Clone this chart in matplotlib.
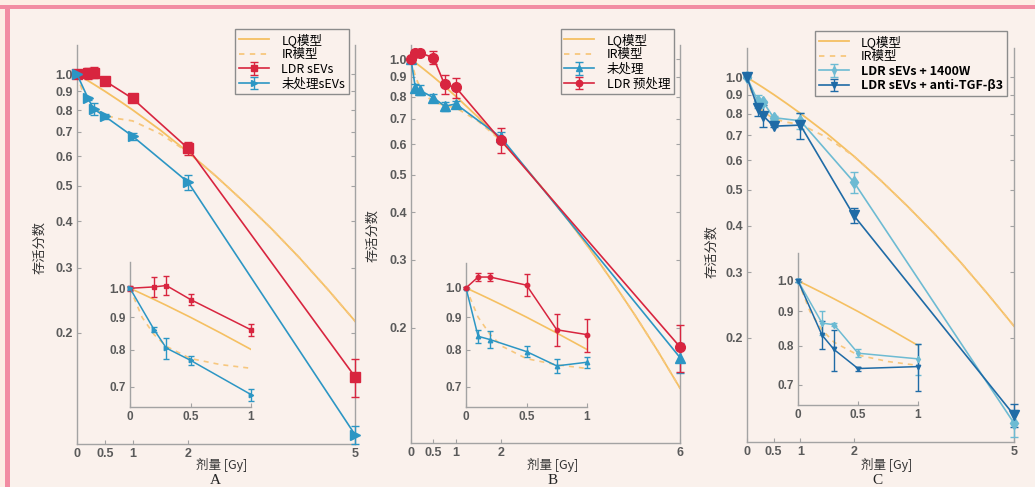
import numpy as np
import matplotlib
matplotlib.use("Agg")
import matplotlib.pyplot as plt
from matplotlib.patches import Rectangle
from matplotlib.font_manager import FontProperties

plt.rcParams['font.family'] = ['Noto Sans CJK SC', 'DejaVu Sans']

# 模型曲线（LQ / IR）的剂量点与存活分数
model_dose = [0, 0.1, 0.2, 0.3, 0.5, 0.75, 1, 1.5, 2, 2.5, 3, 3.5, 4, 4.5, 5, 5.5, 6]
lq_sf = [1.0, 0.980, 0.960, 0.940, 0.900, 0.850, 0.801, 0.706, 0.615, 0.530,
         0.452, 0.382, 0.319, 0.263, 0.215, 0.174, 0.139]
ir_sf = [1.0, 0.900, 0.845, 0.810, 0.775, 0.758, 0.748, 0.690, 0.615, 0.530,
         0.452, 0.382, 0.319, 0.263, 0.215, 0.174, 0.139]

# A: LDR sEVs 与 未处理sEVs
a_dose = [0, 0.2, 0.3, 0.5, 1, 2, 5]
a_ldr = [1.0, 1.005, 1.01, 0.96, 0.86, 0.63, 0.152]
a_ldr_err = [0.01, 0.035, 0.035, 0.02, 0.02, 0.025, 0.018]
a_ctrl = [1.0, 0.86, 0.805, 0.77, 0.68, 0.51, 0.106]
a_ctrl_err = [0.005, 0.008, 0.03, 0.012, 0.015, 0.025, 0.006]

# B: 未处理 与 LDR 预处理
b_dose = [0, 0.1, 0.2, 0.5, 0.75, 1, 2, 6]
b_ctrl = [1.0, 0.84, 0.83, 0.795, 0.755, 0.765, 0.627, 0.167]
b_ctrl_err = [0.005, 0.02, 0.025, 0.015, 0.02, 0.015, 0.02, 0.015]
b_ldr = [1.0, 1.04, 1.04, 1.01, 0.86, 0.845, 0.616, 0.178]
b_ldr_err = [0.005, 0.015, 0.015, 0.04, 0.05, 0.05, 0.045, 0.025]

# C: LDR sEVs + 1400W 与 LDR sEVs + anti-TGF-β3
c_dose = [0, 0.2, 0.3, 0.5, 1, 2, 5]
c_1400w = [1.0, 0.865, 0.86, 0.78, 0.765, 0.524, 0.118]
c_1400w_err = [0.005, 0.035, 0.005, 0.01, 0.04, 0.035, 0.01]
c_anti = [1.0, 0.83, 0.79, 0.74, 0.745, 0.426, 0.124]
c_anti_err = [0.005, 0.04, 0.055, 0.005, 0.06, 0.02, 0.009]

W, H = 1035, 487
BG = '#FAF1EC'
PINK = '#F28CA2'
SPINE = '#A3A3A3'
TICKC = '#5A5A5A'
LQ_C = '#F5C062'
IR_C = '#F7C77E'
RED = '#D8253F'
BLUE = '#2C96C4'
LBLUE = '#6DBBD3'
DBLUE = '#1F6BA6'

fig = plt.figure(figsize=(W / 100, H / 100), dpi=100, facecolor=BG)

# 外框：顶部和左侧的粉色边
fig.patches.append(Rectangle((0, 1 - 5 / H), 1, 5 / H, transform=fig.transFigure,
                             facecolor='#FDEDE4', edgecolor='none', zorder=0))
fig.patches.append(Rectangle((0, 0), 5 / W, 1, transform=fig.transFigure,
                             facecolor='#FDEDE4', edgecolor='none', zorder=0))
fig.patches.append(Rectangle((0, 1 - 9 / H), 1, 4 / H, transform=fig.transFigure,
                             facecolor=PINK, edgecolor='none', zorder=1))
fig.patches.append(Rectangle((5 / W, 0), 5 / W, 1 - 9 / H, transform=fig.transFigure,
                             facecolor=PINK, edgecolor='none', zorder=1))


def rect(left, top, right, bottom):
    # 像素坐标 -> figure 坐标
    return [left / W, 1 - bottom / H, (right - left) / W, (bottom - top) / H]


def style_axes(ax, xt, xl, yt, xlim, ylim, inset=False):
    ax.set_facecolor('none')
    ax.set_yscale('log')
    ax.set_xlim(*xlim)
    ax.set_ylim(*ylim)
    ax.set_xticks(xt)
    ax.set_xticklabels(xl)
    ax.set_yticks(yt)
    ax.set_yticklabels(['%.1f' % v for v in yt])
    ax.minorticks_off()
    ax.spines['top'].set_visible(False)
    ax.spines['right'].set_visible(not inset)
    for s in ax.spines.values():
        s.set_color(SPINE)
        s.set_linewidth(1.0)
    ax.tick_params(axis='both', direction='in', length=3, color=SPINE,
                   right=not inset, pad=3, labelcolor=TICKC)
    fp = FontProperties(family='Liberation Sans', weight='bold', size=8.5 if inset else 9)
    for lab in ax.get_xticklabels() + ax.get_yticklabels():
        lab.set_fontproperties(fp)


def errplot(ax, x, y, e, color, marker, ms, label=None, lw=1.2):
    c = ax.errorbar(x, y, yerr=e, color=color, marker=marker, ms=ms, lw=lw,
                    elinewidth=1.0, capsize=3 if ms > 4 else 2, capthick=1.0,
                    mec=color, mfc=color, label=label, zorder=3)
    for art in c.get_children():
        art.set_clip_on(False)
    return c


def inset_data(x, y, e):
    x = np.array(x)
    m = x <= 1
    return x[m], np.array(y)[m], np.array(e)[m]


def panel(main_box, inset_box, xmax, xt, xl, ylim, ylim_in, series, legend_box,
          legend_bold, ylab_pos, xlab_pos, letter_pos, letter):
    ax = fig.add_axes(rect(*main_box))
    ax.plot(model_dose, lq_sf, color=LQ_C, lw=1.3, label='LQ模型', zorder=2)
    ax.plot(model_dose, ir_sf, color=IR_C, lw=1.3, ls=(0, (3, 3)), label='IR模型', zorder=2)
    for (x, y, e, color, marker, ms, label) in series:
        errplot(ax, x, y, e, color, marker, ms, label)
    style_axes(ax, xt, xl, [0.2, 0.3, 0.4, 0.5, 0.6, 0.7, 0.8, 0.9, 1.0], (0, xmax), ylim)

    h, l = ax.get_legend_handles_labels()
    leg = fig.legend(h, l, loc='upper right', bbox_to_anchor=(legend_box[0] / W, 1 - legend_box[1] / H),
                     bbox_transform=fig.transFigure, frameon=True, fancybox=False,
                     facecolor=BG, edgecolor='#8C8C8C', framealpha=1, fontsize=9,
                     handlelength=2.4, handletextpad=1.0, labelspacing=0.12,
                     borderpad=0.3, borderaxespad=0, markerscale=0.65)
    leg.get_frame().set_linewidth(1.0)
    if legend_bold:
        for t in leg.get_texts()[2:]:
            t.set_fontweight('bold')

    # 小图：0-1 Gy 放大
    ins = fig.add_axes(rect(*inset_box))
    ins.plot(model_dose, lq_sf, color=LQ_C, lw=1.2, zorder=2)
    ins.plot(model_dose, ir_sf, color=IR_C, lw=1.2, ls=(0, (3, 3)), zorder=2)
    for (x, y, e, color, marker, ms, label) in series:
        xi, yi, ei = inset_data(x, y, e)
        errplot(ins, xi, yi, ei, color, marker, 3.2, lw=1.1)
    style_axes(ins, [0, 0.5, 1], ['0', '0.5', '1'], [0.7, 0.8, 0.9, 1.0], (0, 1), ylim_in, inset=True)

    fig.text(ylab_pos[0] / W, 1 - ylab_pos[1] / H, '存活分数', rotation=90,
             ha='center', va='center', fontsize=9.5, color='#333333')
    fig.text(xlab_pos[0] / W, 1 - xlab_pos[1] / H, '剂量 [Gy]',
             ha='center', va='center', fontsize=9, color='#333333')
    fig.text(letter_pos / W, 1 - 480 / H, letter, ha='center', va='center',
             fontsize=11, family='Liberation Serif', color='#222222')


panel((77, 45, 355, 444), (130, 262, 251, 407), 5, [0, 0.5, 1, 2, 5],
      ['0', '0.5', '1', '2', '5'], (0.1, 1.2), (0.65, 1.1),
      [(a_dose, a_ldr, a_ldr_err, RED, 's', 6.5, 'LDR sEVs'),
       (a_dose, a_ctrl, a_ctrl_err, BLUE, '>', 7.5, '未处理sEVs')],
      (349, 29), False, (40, 248), (222, 465), 215, 'A')

panel((411, 45, 680, 443), (466, 263, 587, 407), 6, [0, 0.5, 1, 2, 6],
      ['0', '0.5', '1', '2', '6'], (0.1, 1.09), (0.651, 1.094),
      [(b_dose, b_ctrl, b_ctrl_err, BLUE, '^', 7, '未处理'),
       (b_dose, b_ldr, b_ldr_err, RED, 'o', 7, 'LDR 预处理')],
      (674, 29), False, (373, 235), (553, 465), 553, 'B')

panel((747, 48, 1014, 442), (798, 253, 918, 405), 5, [0, 0.5, 1, 2, 5],
      ['0', '0.5', '1', '2', '5'], (0.105, 1.2), (0.653, 1.10),
      [(c_dose, c_1400w, c_1400w_err, LBLUE, 'd', 6, 'LDR sEVs + 1400W'),
       (c_dose, c_anti, c_anti_err, DBLUE, 'v', 7.5, 'LDR sEVs + anti-TGF-β3')],
      (1007, 31), True, (712, 252), (887, 465), 877, 'C')

fig.savefig('out.png', dpi=100, facecolor=BG)
